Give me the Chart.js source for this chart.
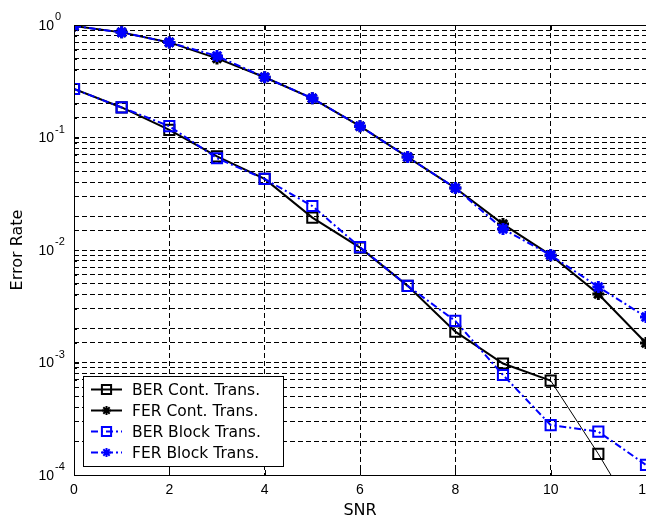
<!DOCTYPE html>
<html>
<head>
<meta charset="utf-8">
<title>Error Rate vs SNR</title>
<script src="https://cdn.jsdelivr.net/npm/chart.js@4.4.1/dist/chart.umd.min.js"></script>
<style>
  body { margin: 0; background: #fff; }
  #wrap { width: 646px; height: 521px; overflow: hidden; }
</style>
</head>
<body>
<div id="wrap"><canvas id="chart" width="700" height="521"></canvas></div>
<script>
// SNR steps on the x axis
let snr = [0, 1, 2, 3, 4, 5, 6, 7, 8, 9, 10, 11, 12]

// measured error rates
let berCont  = [0.27, 0.185, 0.117, 0.068, 0.0428, 0.0194, 0.0105, 0.0048, 0.00188, 0.00098, 0.00069, 0.000154, 0.00003]
let ferCont  = [0.98, 0.86, 0.70, 0.505, 0.343, 0.223, 0.126, 0.067, 0.0356, 0.017, 0.0090, 0.00406, 0.00149]
let berBlock = [0.27, 0.185, 0.126, 0.0654, 0.0428, 0.0246, 0.0106, 0.0048, 0.00234, 0.000774, 0.000278, 0.000243, 0.000123]
let ferBlock = [0.98, 0.86, 0.70, 0.53, 0.343, 0.223, 0.126, 0.067, 0.0356, 0.0154, 0.0090, 0.00469, 0.00254]

let seriesNames = ['BER Cont. Trans.', 'FER Cont. Trans.', 'BER Block Trans.', 'FER Block Trans.']
let xTicks = [0, 2, 4, 6, 8, 10, 12]
let yDecades = [-4, -3, -2, -1, 0]

const BLUE = '#0000ff'
const DASHDOT = [7, 3, 2, 3]

function pts(values) {
    return snr.map((x, i) => ({ x: x, y: values[i] }))
}

function squareSet(label, values, color, dash) {
    return {
        label, data: pts(values),
        borderColor: color, borderWidth: 2, borderDash: dash,
        pointStyle: 'rect', pointRadius: 7.2, pointBorderWidth: 2,
        pointBorderColor: color, pointBackgroundColor: 'rgba(0,0,0,0)'
    }
}

function starSet(label, values, color, dash) {
    return {
        label, data: pts(values),
        borderColor: color, borderWidth: 2, borderDash: dash,
        pointStyle: 'star', pointRadius: 6, pointBorderWidth: 3,
        pointBorderColor: color, pointBackgroundColor: color
    }
}

let datasets = [
    squareSet(seriesNames[0], berCont, '#000', []),
    starSet(seriesNames[1], ferCont, '#000', []),
    squareSet(seriesNames[2], berBlock, BLUE, DASHDOT),
    starSet(seriesNames[3], ferBlock, BLUE, DASHDOT)
]
// the continuous BER curve is drawn thinner after SNR 10
datasets[0].segment = { borderWidth: c => c.p0DataIndex >= 10 ? 1 : 2 }
// blue curves on top
datasets[0].order = 2
datasets[1].order = 2
datasets[2].order = 1
datasets[3].order = 1

const tickFont = '14px "Liberation Sans", Arial, sans-serif'

// frame, inward ticks, 10^n labels and the legend box
const axesDecor = {
    id: 'axesDecor',
    afterDraw(chart) {
        const ctx = chart.ctx
        const a = chart.chartArea
        const xs = chart.scales.x
        const ys = chart.scales.y
        ctx.save()
        ctx.strokeStyle = '#000'
        ctx.lineWidth = 1
        ctx.setLineDash([])

        // box
        ctx.beginPath()
        ctx.moveTo(a.right + 0.5, a.top + 0.5)
        ctx.lineTo(a.left + 0.5, a.top + 0.5)
        ctx.lineTo(a.left + 0.5, a.bottom + 0.5)
        ctx.lineTo(a.right + 0.5, a.bottom + 0.5)
        ctx.stroke()

        // ticks pointing inward
        ctx.beginPath()
        xTicks.forEach(v => {
            let px = Math.round(xs.getPixelForValue(v)) + 0.5
            ctx.moveTo(px, a.bottom); ctx.lineTo(px, a.bottom - 5)
            ctx.moveTo(px, a.top); ctx.lineTo(px, a.top + 5)
        })
        ys.ticks.forEach(t => {
            let py = Math.round(ys.getPixelForValue(t.value)) + 0.5
            let len = t.major ? 5 : 3
            ctx.moveTo(a.left, py); ctx.lineTo(a.left + len, py)
        })
        ctx.stroke()

        // y labels as 10 with a raised exponent
        ctx.fillStyle = '#000'
        yDecades.forEach(e => {
            let py = ys.getPixelForValue(Math.pow(10, e))
            ctx.font = tickFont
            ctx.textAlign = 'right'
            ctx.textBaseline = 'middle'
            ctx.fillText('10', 54, py + 1)
            ctx.font = '11px "Liberation Sans", Arial, sans-serif'
            ctx.textAlign = 'left'
            ctx.fillText(String(e), 55, py - 8)
        })

        // legend
        let lx = 83, ly = 376, lw = 200, lh = 90
        ctx.fillStyle = '#fff'
        ctx.fillRect(lx, ly, lw, lh)
        ctx.strokeRect(lx + 0.5, ly + 0.5, lw, lh)
        ctx.font = '15.5px "DejaVu Sans", sans-serif'
        ctx.textAlign = 'left'
        ctx.textBaseline = 'middle'
        chart.data.datasets.forEach((ds, i) => {
            let cy = ly + 13.5 + i * 21
            ctx.strokeStyle = ds.borderColor
            ctx.lineWidth = 2
            ctx.setLineDash(ds.borderDash || [])
            ctx.beginPath()
            ctx.moveTo(91, cy); ctx.lineTo(122, cy)
            ctx.stroke()
            ctx.setLineDash([])
            ctx.fillStyle = ds.pointBackgroundColor
            Chart.helpers.drawPoint(ctx, {
                pointStyle: ds.pointStyle,
                radius: ds.pointStyle === 'rect' ? 6.5 : 4.5,
                borderWidth: ds.pointBorderWidth,
                rotation: 0
            }, 106.5, cy)
            ctx.fillStyle = '#000'
            ctx.fillText(ds.label, 132, cy + 1)
        })
        ctx.restore()
    }
}

let ctx = document.getElementById('chart').getContext('2d')
let globalChart = new Chart(ctx, {
    type: 'line',
    data: { datasets },
    options: {
        responsive: false,
        devicePixelRatio: 1,
        animation: false,
        events: [],
        layout: { padding: { left: 0, top: 25, right: 54, bottom: 0 } },
        plugins: { legend: { display: false }, tooltip: { enabled: false } },
        scales: {
            x: {
                type: 'linear', min: 0, max: 12,
                afterFit: s => { s.height = 46 },
                ticks: {
                    stepSize: 2, autoSkip: false, maxRotation: 0,
                    color: '#000', padding: 7,
                    font: { family: '"Liberation Sans", Arial, sans-serif', size: 14 }
                },
                grid: { color: '#000', lineWidth: 1, drawTicks: false },
                border: { display: false, dash: [5, 3] },
                title: {
                    display: true, text: 'SNR', color: '#000',
                    font: { family: '"DejaVu Sans", sans-serif', size: 16 },
                    padding: { top: 0, bottom: 1 }
                }
            },
            y: {
                type: 'logarithmic', min: 1e-4, max: 1,
                afterFit: s => { s.width = 74 },
                ticks: { display: false },
                grid: { color: '#000', lineWidth: 1, drawTicks: false },
                border: { display: false, dash: [5, 3] },
                title: {
                    display: true, text: 'Error Rate', color: '#000',
                    font: { family: '"DejaVu Sans", sans-serif', size: 16 },
                    padding: { top: 8, bottom: 0 }
                }
            }
        }
    },
    plugins: [axesDecor]
});
</script>
</body>
</html>
